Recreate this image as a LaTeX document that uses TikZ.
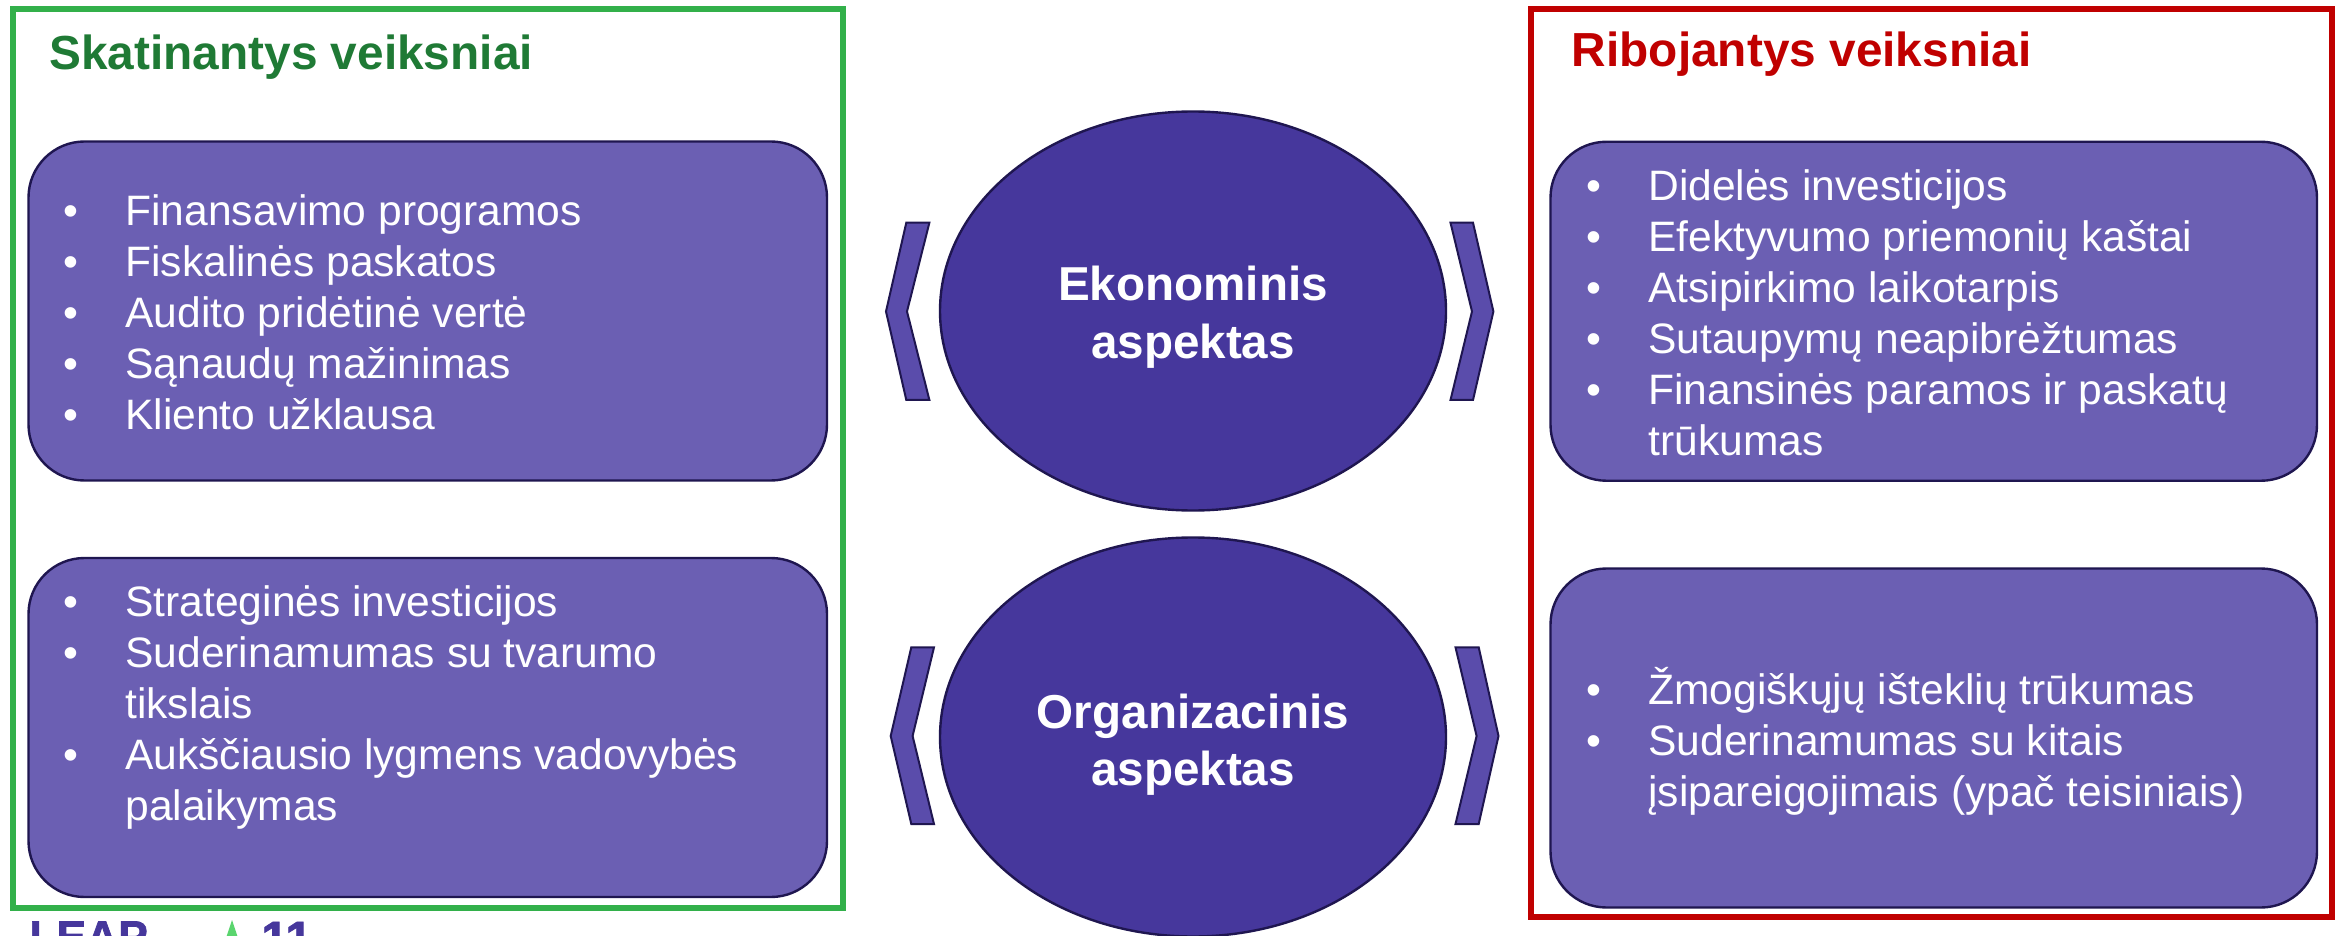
\documentclass[tikz,border=0pt]{standalone}
\usepackage{fontspec}
\setmainfont{Liberation Sans}
\newfontfamily\heavyfont[BoldFeatures={FakeBold=1.6}]{Liberation Sans}
\usetikzlibrary{shapes.geometric}
\definecolor{ell}{HTML}{46379C}
\definecolor{pan}{HTML}{6B5FB3}
\definecolor{chev}{HTML}{5A4CAB}
\definecolor{edge}{HTML}{1F1650}
\definecolor{frameg}{HTML}{32B04A}
\definecolor{headg}{HTML}{1F7A35}
\definecolor{framer}{HTML}{C00000}
\definecolor{tri}{HTML}{5AD56E}
\newcommand{\bl}{\makebox[31pt][l]{•}}
\newcommand{\cont}{\hspace*{31pt}}
\newcommand{\fst}{\rule{0pt}{18pt}}
\tikzset{
  frame/.style={draw,line width=3pt,rectangle,inner sep=0pt},
  panel/.style={draw=edge,fill=pan,line width=1.2pt,rectangle,rounded corners=28pt,inner sep=0pt,minimum height=169.5pt},
  listtext/.style={anchor=north west,inner sep=0pt,align=left,text=white,font=\fontsize{21.28}{25.55}\selectfont},
  heading/.style={anchor=base west,inner sep=0pt,font=\fontsize{23.9}{28.5}\selectfont\bfseries},
  aspect/.style={ellipse,draw=edge,fill=ell,line width=1.2pt,inner sep=0pt,minimum width=253pt,minimum height=199.5pt},
  aspecttext/.style={inner sep=0pt,align=center,text=white,font=\fontsize{23.8}{28.8}\selectfont\bfseries},
  chevron/.style={draw=edge,fill=chev,line width=1pt,line join=miter},
  logotext/.style={anchor=base west,inner sep=0pt,text=ell,font=\fontsize{22.2}{26}\selectfont\heavyfont\bfseries},
  logonum/.style={anchor=base west,inner sep=0pt,text=ell,font=\fontsize{24}{28}\selectfont\heavyfont\bfseries}
}
\begin{document}
\begin{tikzpicture}[x=0.5pt,y=-0.5pt]
\useasboundingbox (0,0) rectangle (2336,936);
\fill[white] (0,0) rectangle (2336,936);
% frames
\node[frame,draw=frameg,minimum width=414.9pt,minimum height=449.65pt] (fg) at (427.7,458.35) {};
\node[frame,draw=framer,minimum width=400.5pt,minimum height=453.9pt] (fr) at (1931.5,462.6) {};
\node[heading,text=headg] (hg) at (49,69.3) {Skatinantys veiksniai};
\node[heading,text=framer] (hr) at (1571.5,67) {Ribojantys veiksniai};
% panels
\node[panel,minimum width=399.25pt] (p1) at (427.75,311) {};
\node[panel,minimum width=399.25pt] (p2) at (427.75,727.5) {};
\node[panel,minimum width=383.25pt] (p3) at (1933.75,311.25) {};
\node[panel,minimum width=383.25pt] (p4) at (1933.75,738) {};
% lists
\node[listtext] (l1) at (63,189) {\fst\bl Finansavimo programos\\\bl Fiskalinės paskatos\\\bl Audito pridėtinė vertė\\\bl Sąnaudų mažinimas\\\bl Kliento užklausa};
\node[listtext] (l2) at (63,580) {\fst\bl Strateginės investicijos\\\bl Suderinamumas su tvarumo\\\cont tikslais\\\bl Aukščiausio lygmens vadovybės\\\cont palaikymas};
\node[listtext] (l3) at (1586,164) {\fst\bl Didelės investicijos\\\bl Efektyvumo priemonių kaštai\\\bl Atsipirkimo laikotarpis\\\bl Sutaupymų neapibrėžtumas\\\bl Finansinės paramos ir paskatų\\\cont trūkumas};
\node[listtext] (l4) at (1586,667) {\fst\bl Žmogiškųjų išteklių trūkumas\\\bl Suderinamumas su kitais\\\cont įsipareigojimais (ypač teisiniais)};
% ellipses
\node[aspect] (e1) at (1193,311) {};
\node[aspect] (e2) at (1193,737) {};
\node[aspecttext] (t1) at ([yshift=-3pt]e1.center) {Ekonominis\\aspektas};
\node[aspecttext] (t2) at ([yshift=-3.8pt]e2.center) {Organizacinis\\aspektas};
% chevrons
\draw[chevron] (906.3,222.7) -- (929.4,222.7) -- (907,311.5) -- (929.4,400) -- (906.3,400) -- (886,311.5) -- cycle;
\draw[chevron] (1450.5,222.7) -- (1473,222.7) -- (1493.4,311.5) -- (1473,400) -- (1450.5,400) -- (1472,311.5) -- cycle;
\draw[chevron] (911.3,647.3) -- (934,647.3) -- (912.6,736) -- (934,824) -- (911.3,824) -- (890.7,736) -- cycle;
\draw[chevron] (1455.5,647.3) -- (1478.7,647.3) -- (1498.5,736) -- (1478.7,824) -- (1455.5,824) -- (1476.6,736) -- cycle;
% logo, cut by the page edge
\begin{scope}
\clip (0,0) rectangle (2336,936);
\node[logotext] (lg1) at (29,952) {LEAP};
\node[logonum] (lg2) at (261,955) {11};
\fill[tri] (232,920) -- (240,944) -- (224,944) -- cycle;
\end{scope}
\end{tikzpicture}
\end{document}
